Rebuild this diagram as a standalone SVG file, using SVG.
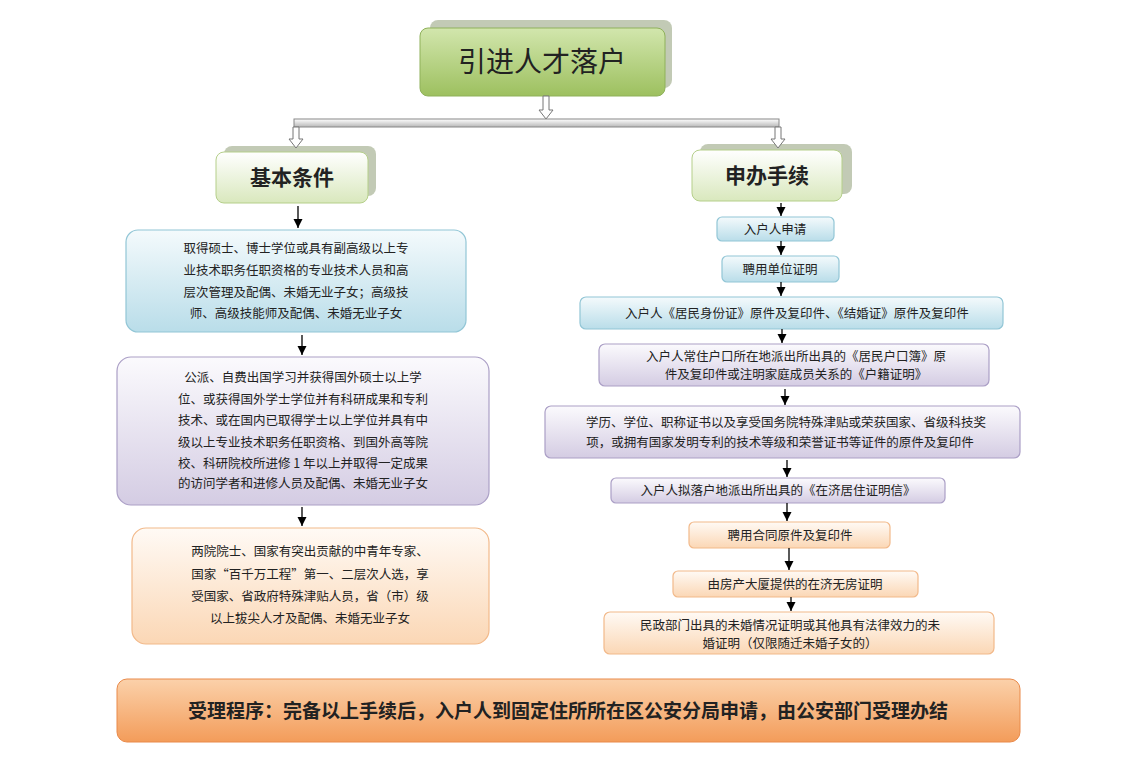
<svg xmlns="http://www.w3.org/2000/svg" width="1122" height="766" viewBox="0 0 1122 766">
<defs>
<linearGradient id="gG" x1="0" y1="0" x2="0" y2="1"><stop offset="0" stop-color="#d2e6ad"/><stop offset="1" stop-color="#9dc05f"/></linearGradient>
<linearGradient id="gL" x1="0" y1="0" x2="0" y2="1"><stop offset="0" stop-color="#ffffff"/><stop offset="1" stop-color="#d9e8bd"/></linearGradient>
<linearGradient id="gB" x1="0" y1="0" x2="0" y2="1"><stop offset="0" stop-color="#f4fafc"/><stop offset="1" stop-color="#b9dde9"/></linearGradient>
<linearGradient id="gP" x1="0" y1="0" x2="0" y2="1"><stop offset="0" stop-color="#fbfafd"/><stop offset="1" stop-color="#d4cce3"/></linearGradient>
<linearGradient id="gO" x1="0" y1="0" x2="0" y2="1"><stop offset="0" stop-color="#fffaf5"/><stop offset="1" stop-color="#fbd7b5"/></linearGradient>
<linearGradient id="gO2" x1="0" y1="0" x2="0" y2="1"><stop offset="0" stop-color="#fbd1aa"/><stop offset="1" stop-color="#f39c5a"/></linearGradient>
<linearGradient id="gBar" x1="0" y1="0" x2="0" y2="1"><stop offset="0" stop-color="#ffffff"/><stop offset="1" stop-color="#b8b8b8"/></linearGradient>
<marker id="ah" viewBox="0 0 10 10" refX="10" refY="5" markerWidth="7" markerHeight="7" orient="auto"><path d="M0,0L10,5L0,10z" fill="#000"/></marker>
</defs>
<style>
text{font-family:"Noto Sans CJK SC","Noto Sans",sans-serif;fill:#222;text-anchor:middle}
.t{font-size:12.5px}
.h{font-size:21px;font-weight:bold}
.shadow{fill:#8f9f78;opacity:.55}
.bl{fill:url(#gB);stroke:#92c6d6;stroke-width:1.2}
.pu{fill:url(#gP);stroke:#ab9fc6;stroke-width:1.2}
.or{fill:url(#gO);stroke:#f2b98a;stroke-width:1.2}
.ln{stroke:#000;stroke-width:1.3;fill:none;marker-end:url(#ah)}
.ha{fill:#fff;stroke:#777;stroke-width:1}
</style>
<rect width="1122" height="766" fill="#fff"/>
<g id="title"><rect class="shadow" x="430" y="20" width="242" height="68" rx="8"/><rect x="420" y="28" width="245" height="68" rx="8" fill="url(#gG)" stroke="#8fb15a"/><text x="542" y="72" style="font-size:28px">引进人才落户</text></g>
<g id="jiben"><rect class="shadow" x="224" y="146" width="152" height="50" rx="8"/><rect x="216" y="152" width="152" height="51" rx="8" fill="url(#gL)" stroke="#b5cf8a"/><text x="292" y="185" class="h">基本条件</text></g>
<g id="shenban"><rect class="shadow" x="700" y="144" width="152" height="50" rx="8"/><rect x="692" y="150" width="150" height="51" rx="8" fill="url(#gL)" stroke="#b5cf8a"/><text x="767" y="183" class="h">申办手续</text></g>
<g id="l1"><rect class="bl" x="126" y="230" width="340" height="102" rx="12"/>
<text class="t" x="296" y="253">取得硕士、博士学位或具有副高级以上专</text><text class="t" x="296" y="275">业技术职务任职资格的专业技术人员和高</text><text class="t" x="296" y="297">层次管理及配偶、未婚无业子女；高级技</text><text class="t" x="296" y="318">师、高级技能师及配偶、未婚无业子女</text></g>
<g id="l2"><rect class="pu" x="117" y="357" width="372" height="148" rx="14"/>
<text class="t" x="303" y="382">公派、自费出国学习并获得国外硕士以上学</text><text class="t" x="303" y="404">位、或获得国外学士学位并有科研成果和专利</text><text class="t" x="303" y="425">技术、或在国内已取得学士以上学位并具有中</text><text class="t" x="303" y="447">级以上专业技术职务任职资格、到国外高等院</text><text class="t" x="303" y="468">校、科研院校所进修 1 年以上并取得一定成果</text><text class="t" x="303" y="488">的访问学者和进修人员及配偶、未婚无业子女</text></g>
<g id="l3"><rect class="or" x="132" y="528" width="357" height="116" rx="14"/>
<text class="t" x="310" y="556">两院院士、国家有突出贡献的中青年专家、</text><text class="t" x="310" y="579">国家“百千万工程”第一、二层次人选，享</text><text class="t" x="310" y="601">受国家、省政府特殊津贴人员，省（市）级</text><text class="t" x="310" y="623">以上拔尖人才及配偶、未婚无业子女</text></g>
<g id="r1"><rect class="bl" x="717" y="217" width="117" height="24" rx="5"/><text class="t" x="775" y="234">入户人申请</text></g>
<g id="r2"><rect class="bl" x="722" y="256" width="117" height="26" rx="5"/><text class="t" x="780" y="274">聘用单位证明</text></g>
<g id="r3"><rect class="bl" x="580" y="297" width="423" height="32" rx="6"/><text class="t" x="797" y="318">入户人《居民身份证》原件及复印件、《结婚证》原件及复印件</text></g>
<g id="r4"><rect class="pu" x="599" y="344" width="390" height="42" rx="6"/><text class="t" x="796" y="361">入户人常住户口所在地派出所出具的《居民户口簿》原</text><text class="t" x="796" y="379">件及复印件或注明家庭成员关系的《户籍证明》</text></g>
<g id="r5"><rect class="pu" x="545" y="406" width="475" height="52" rx="6"/><text class="t" x="786" y="427">学历、学位、职称证书以及享受国务院特殊津贴或荣获国家、省级科技奖</text><text class="t" x="780" y="447">项，或拥有国家发明专利的技术等级和荣誉证书等证件的原件及复印件</text></g>
<g id="r6"><rect class="pu" x="611" y="478" width="334" height="25" rx="5"/><text class="t" x="778" y="495">入户人拟落户地派出所出具的《在济居住证明信》</text></g>
<g id="r7"><rect class="or" x="689" y="522" width="201" height="26" rx="5"/><text class="t" x="790" y="540">聘用合同原件及复印件</text></g>
<g id="r8"><rect class="or" x="673" y="571" width="245" height="26" rx="5"/><text class="t" x="795" y="589">由房产大厦提供的在济无房证明</text></g>
<g id="r9"><rect class="or" x="604" y="612" width="390" height="42" rx="6"/><text class="t" x="790" y="630">民政部门出具的未婚情况证明或其他具有法律效力的未</text><text class="t" x="790" y="648">婚证明（仅限随迁未婚子女的）</text></g>
<g id="bottom"><rect x="117" y="679" width="903" height="63" rx="10" fill="url(#gO2)" stroke="#e98a4a"/><text x="568" y="718" style="font-size:19px;font-weight:bold">受理程序：完备以上手续后，入户人到固定住所所在区公安分局申请，由公安部门受理办结</text></g>
<g id="connectors">
<path class="ha" d="M543,96h6v14h4l-7,9l-7,-9h4z"/>
<rect x="294" y="119" width="485" height="8" fill="url(#gBar)" stroke="#888"/>
<path class="ha" d="M293,127h6v12h4l-7,9l-7,-9h4z"/>
<path class="ha" d="M775,127h6v12h4l-7,9l-7,-9h4z"/>
<path class="ln" d="M298,206V228"/><path class="ln" d="M302,335V355"/><path class="ln" d="M302,507V526"/>
<path class="ln" d="M781,203V216"/><path class="ln" d="M781,241V255"/><path class="ln" d="M781,282V296"/><path class="ln" d="M782,329V343"/><path class="ln" d="M785,389V405"/><path class="ln" d="M787,460V477"/><path class="ln" d="M787,503V521"/><path class="ln" d="M789,548V570"/><path class="ln" d="M791,597V611"/>
</g>
</svg>
